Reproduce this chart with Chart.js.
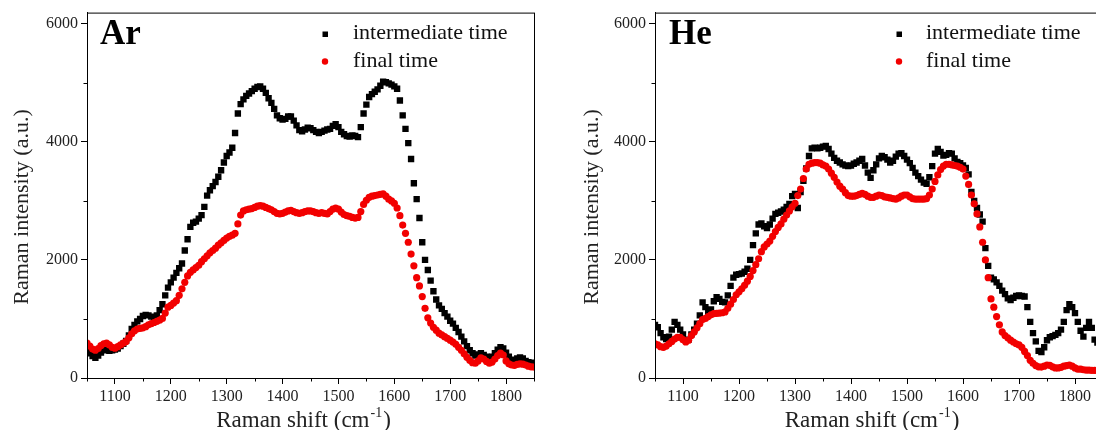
<!DOCTYPE html>
<html lang="en">
<head>
  <meta charset="UTF-8">
  <title>Raman spectra Ar / He</title>
  <script src="https://cdn.jsdelivr.net/npm/chart.js"></script>
  <style>
    html, body { margin: 0; padding: 0; background: #fff; overflow: hidden; width: 1096px; height: 430px; }
    canvas { position: absolute; top: 0; }
    #arChart { left: 0; }
    #heChart { left: 548px; }
  </style>
</head>
<body>
  <canvas id="arChart" width="548" height="430"></canvas>
  <canvas id="heChart" width="560" height="430"></canvas>

  <script>
    // Raman shift (cm-1), one point every 5 cm-1
    const shifts = [
      1050,1055,1060,1065,1070,1075,1080,1085,1090,1095,1100,1105,1110,1115,1120,1125,1130,1135,1140,1145,
      1150,1155,1160,1165,1170,1175,1180,1185,1190,1195,1200,1205,1210,1215,1220,1225,1230,1235,1240,1245,
      1250,1255,1260,1265,1270,1275,1280,1285,1290,1295,1300,1305,1310,1315,1320,1325,1330,1335,1340,1345,
      1350,1355,1360,1365,1370,1375,1380,1385,1390,1395,1400,1405,1410,1415,1420,1425,1430,1435,1440,1445,
      1450,1455,1460,1465,1470,1475,1480,1485,1490,1495,1500,1505,1510,1515,1520,1525,1530,1535,1540,1545,
      1550,1555,1560,1565,1570,1575,1580,1585,1590,1595,1600,1605,1610,1615,1620,1625,1630,1635,1640,1645,
      1650,1655,1660,1665,1670,1675,1680,1685,1690,1695,1700,1705,1710,1715,1720,1725,1730,1735,1740,1745,
      1750,1755,1760,1765,1770,1775,1780,1785,1790,1795,1800,1805,1810,1815,1820,1825,1830,1835,1840,1845,
      1850
    ];

    const arIntermediate = [
      470,420,370,340,380,430,470,480,460,470,480,500,540,580,630,720,830,900,960,1000,
      1050,1070,1060,1040,1030,1060,1150,1250,1400,1530,1620,1700,1780,1860,1940,2160,2350,2560,2630,2650,
      2700,2760,2900,3090,3180,3250,3320,3410,3520,3650,3760,3820,3900,4150,4480,4640,4720,4780,4820,4860,
      4900,4930,4940,4900,4830,4740,4660,4560,4450,4400,4380,4390,4430,4430,4360,4280,4200,4180,4210,4240,
      4230,4200,4170,4150,4170,4190,4210,4220,4270,4300,4250,4170,4130,4100,4090,4110,4100,4080,4250,4480,
      4630,4760,4810,4850,4890,4950,5020,5010,4990,4970,4940,4900,4700,4450,4220,3980,3710,3300,3030,2710,
      2300,2000,1830,1650,1470,1330,1230,1170,1100,1040,970,920,850,780,700,620,540,470,420,380,
      400,420,390,360,340,360,420,480,520,500,430,360,310,300,330,350,330,290,270,260,
      240
    ];
    const arFinal = [
      590,540,490,470,500,550,580,590,560,520,505,530,560,590,620,680,750,800,830,840,
      850,870,900,920,940,960,980,1010,1100,1200,1230,1270,1310,1400,1510,1620,1730,1790,1830,1870,
      1910,1970,2020,2070,2120,2160,2200,2250,2290,2330,2370,2400,2420,2450,2610,2760,2830,2850,2860,2870,
      2890,2910,2920,2910,2890,2870,2850,2820,2790,2780,2790,2810,2830,2840,2820,2800,2790,2800,2820,2830,
      2830,2820,2800,2790,2800,2790,2780,2820,2860,2880,2860,2810,2770,2750,2740,2720,2710,2720,2820,2940,
      3010,3060,3080,3090,3100,3110,3120,3080,3030,3000,2960,2880,2750,2590,2450,2300,2100,1900,1700,1560,
      1380,1180,1020,930,860,810,760,730,700,670,640,610,570,520,470,410,350,300,260,250,
      290,340,320,280,250,270,320,380,420,390,290,240,220,215,230,240,235,220,200,190,
      185
    ];

    const heIntermediate = [
      900,860,760,690,660,700,820,950,900,820,740,640,650,740,820,920,1060,1280,1200,1120,
      1160,1300,1370,1340,1290,1280,1400,1560,1700,1750,1760,1770,1800,1850,2000,2250,2450,2600,2620,2570,
      2540,2600,2700,2780,2800,2820,2850,2900,2950,3080,3120,2880,3150,3340,3550,3760,3890,3900,3890,3900,
      3920,3930,3880,3800,3730,3680,3650,3620,3600,3590,3600,3630,3650,3680,3710,3600,3480,3390,3520,3620,
      3720,3760,3740,3700,3650,3680,3750,3800,3810,3760,3700,3640,3560,3480,3420,3360,3310,3290,3400,3590,
      3800,3880,3830,3770,3780,3810,3800,3720,3660,3640,3600,3560,3450,3150,3000,2880,2770,2650,2200,1900,
      1700,1670,1620,1560,1480,1420,1350,1320,1360,1390,1400,1390,1380,1200,950,760,620,460,440,520,
      640,690,710,730,760,820,950,1150,1250,1200,1100,950,800,700,850,950,850,650,600,650,
      700
    ];
    const heFinal = [
      580,560,530,520,540,580,620,660,690,690,650,610,640,720,780,850,920,990,1010,1040,
      1070,1090,1095,1100,1105,1120,1180,1250,1330,1410,1460,1510,1570,1640,1720,1820,1920,2020,2140,2220,
      2270,2320,2400,2480,2550,2610,2690,2760,2830,2900,2960,3090,3200,3380,3540,3620,3640,3650,3650,3640,
      3610,3590,3540,3470,3400,3320,3250,3200,3140,3090,3080,3080,3090,3110,3130,3110,3080,3060,3060,3080,
      3100,3090,3070,3060,3050,3040,3030,3050,3080,3100,3100,3070,3040,3030,3030,3030,3030,3040,3100,3200,
      3330,3440,3530,3590,3620,3620,3610,3600,3590,3570,3540,3420,3280,3100,2950,2780,2560,2300,2000,1700,
      1340,1200,1040,900,780,720,680,640,610,580,560,520,450,380,300,250,210,190,185,200,
      220,215,190,170,170,180,200,210,220,200,170,150,150,140,135,135,130,130,125,125,
      120
    ];

    const seriesNames = ['intermediate time', 'final time'];
    const xTicks = [1050,1100,1150,1200,1250,1300,1350,1400,1450,1500,1550,1600,1650,1700,1750,1800,1850];
    const yTicks = [0,1000,2000,3000,4000,5000,6000];
    const FONT = '"Liberation Serif", "Times New Roman", serif';
    const RED = '#f20000';

    function toPoints(values) {
      return shifts.map((x, i) => ({ x: x, y: values[i] }));
    }

    // frame, minor ticks, axis titles, panel name and the in-plot legend
    function decorations(panel) {
      return {
        id: 'decorations',
        afterDraw(chart) {
          const ctx = chart.ctx;
          const a = chart.chartArea;
          const xs = chart.scales.x, ys = chart.scales.y;
          ctx.save();

          ctx.strokeStyle = '#000';
          ctx.lineWidth = 1;
          ctx.strokeRect(a.left + 0.5, a.top + 0.5, a.right - a.left, a.bottom - a.top);

          // minor ticks
          ctx.beginPath();
          xs.ticks.forEach(t => {
            if (t.value % 100 !== 0) {
              const px = Math.round(xs.getPixelForValue(t.value)) + 0.5;
              ctx.moveTo(px, a.bottom); ctx.lineTo(px, a.bottom + 3.5);
            }
          });
          ys.ticks.forEach(t => {
            if (t.value % 2000 !== 0) {
              const py = Math.round(ys.getPixelForValue(t.value)) + 0.5;
              ctx.moveTo(a.left - 3.5, py); ctx.lineTo(a.left, py);
            }
          });
          ctx.stroke();

          // y title
          ctx.fillStyle = '#222';
          ctx.font = '22px ' + FONT;
          ctx.textAlign = 'center';
          ctx.textBaseline = 'middle';
          ctx.save();
          ctx.translate(a.left - panel.yTitleGap, 207);
          ctx.rotate(-Math.PI / 2);
          ctx.fillText('Raman intensity (a.u.)', 0, 0);
          ctx.restore();

          // x title with superscript
          ctx.textAlign = 'left';
          ctx.textBaseline = 'alphabetic';
          const main = 'Raman shift (cm', sup = '-1', close = ')';
          ctx.font = '23px ' + FONT;
          const w1 = ctx.measureText(main).width;
          const w3 = ctx.measureText(close).width;
          ctx.font = '14px ' + FONT;
          const w2 = ctx.measureText(sup).width;
          let tx = (a.left + a.right) / 2 - 8 - (w1 + w2 + w3) / 2;
          const ty = 427;
          ctx.font = '23px ' + FONT;
          ctx.fillText(main, tx, ty);
          ctx.font = '14px ' + FONT;
          ctx.fillText(sup, tx + w1 + 1, ty - 10);
          ctx.font = '23px ' + FONT;
          ctx.fillText(close, tx + w1 + w2 + 2, ty);

          // panel name
          ctx.fillStyle = '#000';
          ctx.font = 'bold 35px ' + FONT;
          ctx.fillText(panel.name, a.left + panel.nameX, 44);

          // legend
          ctx.font = '22px ' + FONT;
          ctx.fillStyle = '#000';
          ctx.fillRect(a.left + panel.legendX - 2.5, 31.5, 5.5, 5.5);
          ctx.fillStyle = '#111';
          ctx.fillText(seriesNames[0], a.left + panel.legendTextX, 39);
          ctx.fillStyle = RED;
          ctx.beginPath();
          ctx.arc(a.left + panel.legendX, 61.5, 3.2, 0, Math.PI * 2);
          ctx.fill();
          ctx.fillStyle = '#111';
          ctx.fillText(seriesNames[1], a.left + panel.legendTextX, 67);

          ctx.restore();
        }
      };
    }

    function makePanel(canvasId, panel, intermediate, final) {
      const tickFont = { family: FONT, size: 16 };
      return new Chart(document.getElementById(canvasId).getContext('2d'), {
        type: 'scatter',
        data: {
          datasets: [
            { label: seriesNames[0], data: toPoints(intermediate), pointStyle: 'rect', pointRadius: 4.5,
              backgroundColor: '#000', borderColor: '#000', borderWidth: 0, order: 2 },
            { label: seriesNames[1], data: toPoints(final), pointStyle: 'circle', pointRadius: 3.6,
              backgroundColor: RED, borderColor: RED, borderWidth: 0, order: 1 }
          ]
        },
        options: {
          responsive: false,
          animation: false,
          layout: { padding: { top: 12, right: panel.padRight, left: 0, bottom: 0 } },
          plugins: { legend: { display: false }, tooltip: { enabled: false } },
          scales: {
            x: {
              type: 'linear', min: 1050, max: 1850,
              afterBuildTicks: s => { s.ticks = xTicks.map(v => ({ value: v })); },
              ticks: {
                autoSkip: false, maxRotation: 0, padding: 3,
                color: '#222', font: tickFont,
                callback: v => (v % 100 === 0 ? String(v) : '')
              },
              grid: {
                drawOnChartArea: false, tickLength: 6,
                tickColor: c => (c.tick && c.tick.value % 100 === 0 ? '#000' : 'rgba(0,0,0,0)')
              },
              border: { color: '#000', width: 1 },
              afterFit: s => { s.height = 52; }
            },
            y: {
              type: 'linear', min: 0, max: 6190,
              afterBuildTicks: s => { s.ticks = yTicks.map(v => ({ value: v })); },
              ticks: {
                autoSkip: false, padding: 3,
                color: '#222', font: tickFont,
                callback: v => (v % 2000 === 0 ? String(v) : '')
              },
              grid: {
                drawOnChartArea: false, tickLength: 6,
                tickColor: c => (c.tick && c.tick.value % 2000 === 0 ? '#000' : 'rgba(0,0,0,0)')
              },
              border: { color: '#000', width: 1 },
              afterFit: s => { s.width = panel.axisWidth; }
            }
          }
        },
        plugins: [decorations(panel)]
      });
    }

    makePanel('arChart', { name: 'Ar', axisWidth: 87, padRight: 14, yTitleGap: 65,
      nameX: 13, legendX: 238, legendTextX: 266 }, arIntermediate, arFinal);
    makePanel('heChart', { name: 'He', axisWidth: 107, padRight: 5, yTitleGap: 63,
      nameX: 14, legendX: 244, legendTextX: 271 }, heIntermediate, heFinal);
  </script>
</body>
</html>
